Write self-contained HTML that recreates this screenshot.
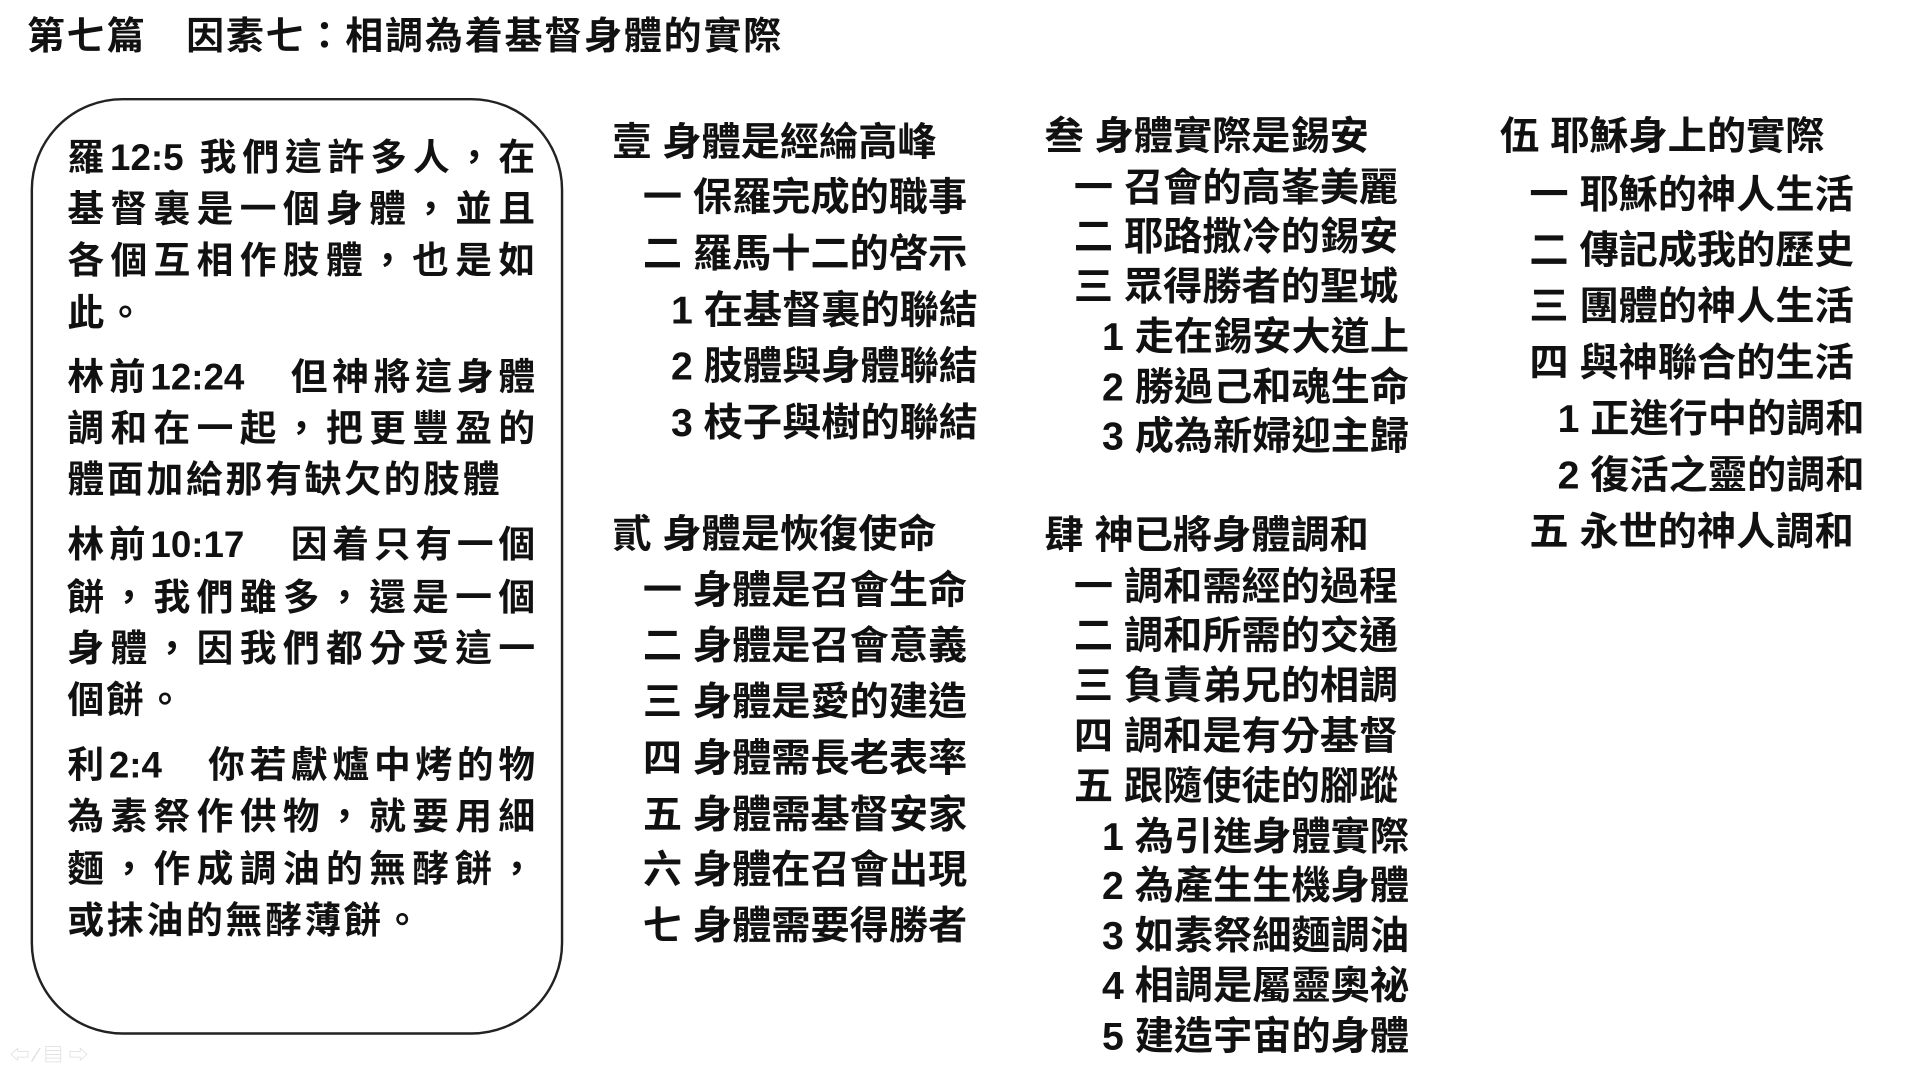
<!DOCTYPE html>
<html><head><meta charset="utf-8">
<style>
html,body{margin:0;padding:0;background:#fff;width:1920px;height:1080px;overflow:hidden}
#w{position:absolute;left:0;top:0;width:1568px;height:882px;transform:scale(1.2245);transform-origin:0 0;
font-family:"Liberation Sans","Noto Sans CJK TC","Noto Sans CJK SC",sans-serif;color:#111;font-weight:700}
.t{position:absolute;white-space:pre;font-size:30px;line-height:42px;height:42px}
.j{width:382px;text-align:justify;text-align-last:justify;white-space:normal}
.s{letter-spacing:2.3px}
.c{font-size:32px}
#box{position:absolute;left:25px;top:80px;width:435px;height:765px;border:2px solid #222;border-radius:75px;box-sizing:border-box}
</style></head><body><div id="w">
<div class="t" style="left:22px;top:9px;font-size:31px;letter-spacing:1.5px">第七篇　因素七：相調為着基督身體的實際</div>
<div id="box"></div>
<div class="t j" style="left:55px;top:109px">羅12:5 我們這許多人，在</div>
<div class="t j" style="left:55px;top:151px">基督裏是一個身體，並且</div>
<div class="t j" style="left:55px;top:193px">各個互相作肢體，也是如</div>
<div class="t s" style="left:55px;top:236px">此。</div>
<div class="t j" style="left:55px;top:288px">林前12:24　但神將這身體</div>
<div class="t j" style="left:55px;top:330px">調和在一起，把更豐盈的</div>
<div class="t s" style="left:55px;top:372px">體面加給那有缺欠的肢體</div>
<div class="t j" style="left:55px;top:425px">林前10:17　因着只有一個</div>
<div class="t j" style="left:55px;top:468px">餅，我們雖多，還是一個</div>
<div class="t j" style="left:55px;top:510px">身體，因我們都分受這一</div>
<div class="t s" style="left:55px;top:552px">個餅。</div>
<div class="t j" style="left:55px;top:605px">利2:4　你若獻爐中烤的物</div>
<div class="t j" style="left:55px;top:647px">為素祭作供物，就要用細</div>
<div class="t j" style="left:55px;top:690px">麵，作成調油的無酵餅，</div>
<div class="t s" style="left:55px;top:732px">或抹油的無酵薄餅。</div>

<div class="t c" style="left:500px;top:95px">壹 身體是經綸高峰</div>
<div class="t c" style="left:525px;top:140px">一 保羅完成的職事</div>
<div class="t c" style="left:525px;top:186px">二 羅馬十二的啓示</div>
<div class="t c" style="left:548px;top:232px">1 在基督裏的聯結</div>
<div class="t c" style="left:548px;top:278px">2 肢體與身體聯結</div>
<div class="t c" style="left:548px;top:324px">3 枝子與樹的聯結</div>
<div class="t c" style="left:500px;top:415px">貳 身體是恢復使命</div>
<div class="t c" style="left:525px;top:461px">一 身體是召會生命</div>
<div class="t c" style="left:525px;top:506px">二 身體是召會意義</div>
<div class="t c" style="left:525px;top:552px">三 身體是愛的建造</div>
<div class="t c" style="left:525px;top:598px">四 身體需長老表率</div>
<div class="t c" style="left:525px;top:644px">五 身體需基督安家</div>
<div class="t c" style="left:525px;top:689px">六 身體在召會出現</div>
<div class="t c" style="left:525px;top:735px">七 身體需要得勝者</div>

<div class="t c" style="left:853px;top:90px">叁 身體實際是錫安</div>
<div class="t c" style="left:877px;top:132px">一 召會的高峯美麗</div>
<div class="t c" style="left:877px;top:172px">二 耶路撒冷的錫安</div>
<div class="t c" style="left:877px;top:213px">三 眾得勝者的聖城</div>
<div class="t c" style="left:900px;top:254px">1 走在錫安大道上</div>
<div class="t c" style="left:900px;top:295px">2 勝過己和魂生命</div>
<div class="t c" style="left:900px;top:335px">3 成為新婦迎主歸</div>
<div class="t c" style="left:853px;top:416px">肆 神已將身體調和</div>
<div class="t c" style="left:877px;top:458px">一 調和需經的過程</div>
<div class="t c" style="left:877px;top:498px">二 調和所需的交通</div>
<div class="t c" style="left:877px;top:539px">三 負責弟兄的相調</div>
<div class="t c" style="left:877px;top:580px">四 調和是有分基督</div>
<div class="t c" style="left:877px;top:621px">五 跟隨使徒的腳蹤</div>
<div class="t c" style="left:900px;top:662px">1 為引進身體實際</div>
<div class="t c" style="left:900px;top:702px">2 為產生生機身體</div>
<div class="t c" style="left:900px;top:743px">3 如素祭細麵調油</div>
<div class="t c" style="left:900px;top:784px">4 相調是屬靈奧祕</div>
<div class="t c" style="left:900px;top:825px">5 建造宇宙的身體</div>

<div class="t c" style="left:1225px;top:90px">伍 耶穌身上的實際</div>
<div class="t c" style="left:1249px;top:138px">一 耶穌的神人生活</div>
<div class="t c" style="left:1249px;top:183px">二 傳記成我的歷史</div>
<div class="t c" style="left:1249px;top:229px">三 團體的神人生活</div>
<div class="t c" style="left:1249px;top:275px">四 與神聯合的生活</div>
<div class="t c" style="left:1272px;top:321px">1 正進行中的調和</div>
<div class="t c" style="left:1272px;top:367px">2 復活之靈的調和</div>
<div class="t c" style="left:1249px;top:413px">五 永世的神人調和</div>

<div class="t" style="left:8px;top:842px;font-size:16px;color:#ddd;font-weight:400">⇦ ⁄ ▤ ⇨</div>
</div></body></html>
